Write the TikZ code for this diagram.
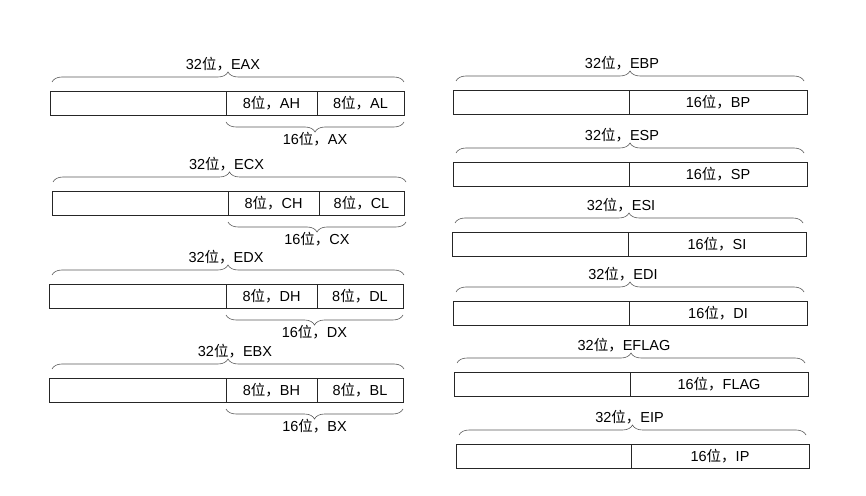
\documentclass[tikz,border=0pt]{standalone}
\usepackage{fontspec}
\setmainfont{Liberation Sans}
\newfontfamily\cjk{Noto Sans CJK SC}
\usetikzlibrary{positioning,decorations.pathreplacing}
\newcommand\wei{{\cjk 位，}}
\begin{document}
\begin{tikzpicture}[x=1pt,y=1pt,
  cell/.style={draw=black!85,line width=0.9pt,anchor=south west,minimum height=24pt,inner sep=0pt,outer sep=0pt,font=\fontsize{14.5}{16}\selectfont},
  topbrace/.style={draw=black!65,line width=0.6pt,decorate,decoration={brace,amplitude=10pt}},
  botbrace/.style={draw=black!65,line width=0.6pt,decorate,decoration={brace,mirror,amplitude=10pt}},
  toplabel/.style={midway,above,yshift=10pt,inner sep=1pt,font=\fontsize{14.5}{16}\selectfont},
  botlabel/.style={midway,below,yshift=-10pt,inner sep=0pt,font=\fontsize{14.5}{16}\selectfont}]
\useasboundingbox (0,0) rectangle (866,495);
% left column
\node[cell,minimum width=176pt] (eax) at (50,380) {};
\node[cell,minimum width=91pt,right=0pt of eax] (ah) {8\wei AH};
\node[cell,minimum width=87pt,right=0pt of ah] (al) {8\wei AL};
\draw[topbrace] ([shift={(2,9)}]eax.north west) -- ([shift={(0,9)}]al.north east) node[toplabel,xshift=-5pt]{32\wei EAX};
\draw[botbrace] ([yshift=-7pt]ah.south west) -- ([yshift=-7pt]al.south east) node[botlabel]{16\wei AX};
\node[cell,minimum width=176pt] (ecx) at (52,280) {};
\node[cell,minimum width=91pt,right=0pt of ecx] (ch) {8\wei CH};
\node[cell,minimum width=85pt,right=0pt of ch] (cl) {8\wei CL};
\draw[topbrace] ([shift={(1,9)}]ecx.north west) -- ([shift={(2,9)}]cl.north east) node[toplabel,xshift=-3pt]{32\wei ECX};
\draw[botbrace] ([yshift=-7pt]ch.south west) -- ([shift={(2,-7)}]cl.south east) node[botlabel]{16\wei CX};
\node[cell,minimum width=177pt] (edx) at (49,187) {};
\node[cell,minimum width=91pt,right=0pt of edx] (dh) {8\wei DH};
\node[cell,minimum width=86pt,right=0pt of dh] (dl) {8\wei DL};
\draw[topbrace] ([shift={(3,9)}]edx.north west) -- ([shift={(1,9)}]dl.north east) node[toplabel,xshift=-2pt]{32\wei EDX};
\draw[botbrace] ([yshift=-7pt]dh.south west) -- ([yshift=-7pt]dl.south east) node[botlabel]{16\wei DX};
\node[cell,minimum width=177pt] (ebx) at (49,93) {};
\node[cell,minimum width=91pt,right=0pt of ebx] (bh) {8\wei BH};
\node[cell,minimum width=86pt,right=0pt of bh] (bl) {8\wei BL};
\draw[topbrace] ([shift={(3,9)}]ebx.north west) -- ([shift={(1,9)}]bl.north east) node[toplabel,xshift=7pt]{32\wei EBX};
\draw[botbrace] ([yshift=-7pt]bh.south west) -- ([yshift=-7pt]bl.south east) node[botlabel]{16\wei BX};
% right column
\node[cell,minimum width=176pt] (ebp) at (453,381) {};
\node[cell,minimum width=178pt,right=0pt of ebp] (bp) {16\wei BP};
\draw[topbrace] ([shift={(3,9)}]ebp.north west) -- ([shift={(-3,9)}]bp.north east) node[toplabel,xshift=-8pt]{32\wei EBP};
\node[cell,minimum width=176pt] (esp) at (453,309) {};
\node[cell,minimum width=178pt,right=0pt of esp] (sp) {16\wei SP};
\draw[topbrace] ([shift={(3,9)}]esp.north west) -- ([shift={(-3,9)}]sp.north east) node[toplabel,xshift=-8pt]{32\wei ESP};
\node[cell,minimum width=176pt] (esi) at (452,239) {};
\node[cell,minimum width=178pt,right=0pt of esi] (si) {16\wei SI};
\draw[topbrace] ([shift={(3,9)}]esi.north west) -- ([shift={(-3,9)}]si.north east) node[toplabel,xshift=-8pt]{32\wei ESI};
\node[cell,minimum width=176pt] (edi) at (453,170) {};
\node[cell,minimum width=178pt,right=0pt of edi] (di) {16\wei DI};
\draw[topbrace] ([shift={(3,9)}]edi.north west) -- ([shift={(-3,9)}]di.north east) node[toplabel,xshift=-7pt]{32\wei EDI};
\node[cell,minimum width=176pt] (eflag) at (454,99) {};
\node[cell,minimum width=178pt,right=0pt of eflag] (flag) {16\wei FLAG};
\draw[topbrace] ([shift={(3,9)}]eflag.north west) -- ([shift={(-3,9)}]flag.north east) node[toplabel,xshift=-7pt]{32\wei EFLAG};
\node[cell,minimum width=175pt] (eip) at (456,27) {};
\node[cell,minimum width=178pt,right=0pt of eip] (ip) {16\wei IP};
\draw[topbrace] ([shift={(3,9)}]eip.north west) -- ([shift={(-3,9)}]ip.north east) node[toplabel,xshift=-3pt]{32\wei EIP};
\end{tikzpicture}
\end{document}
